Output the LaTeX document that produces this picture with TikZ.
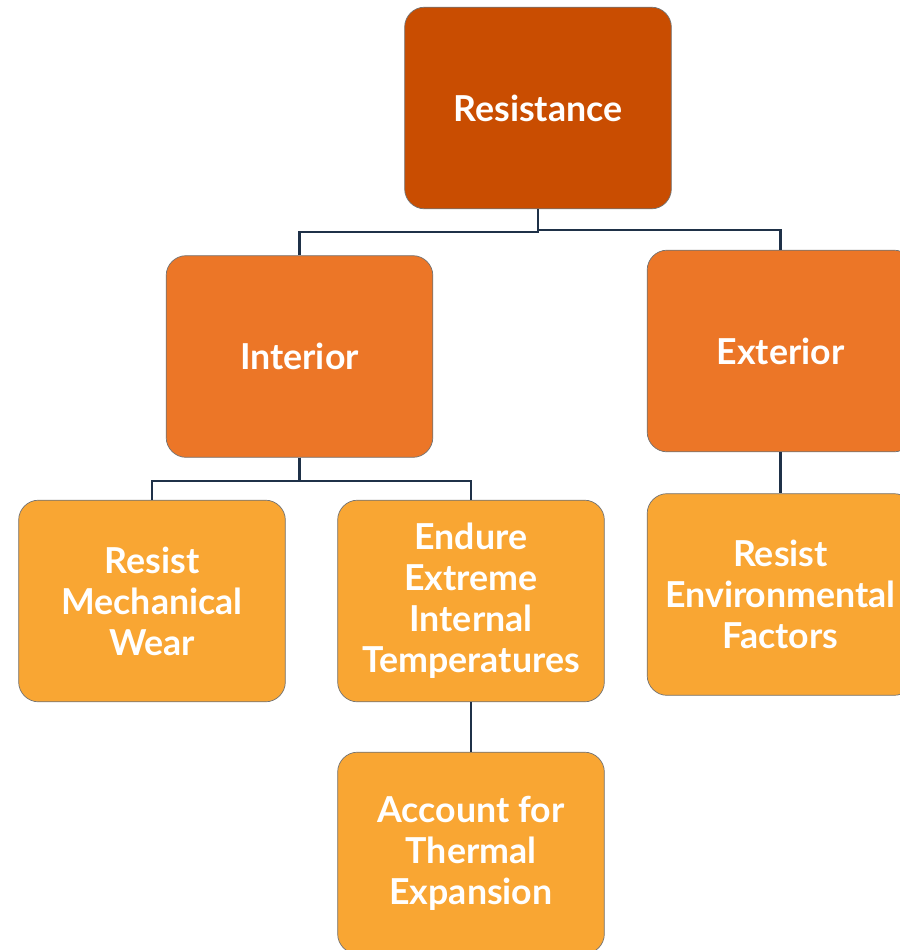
\documentclass[tikz,border=0pt]{standalone}
\usepackage{fontspec}
\setmainfont{Lato}
\usepackage{tikz}
\definecolor{rustc}{HTML}{C94D01}
\definecolor{orangec}{HTML}{EC7627}
\definecolor{ambc}{HTML}{F9A633}
\definecolor{linkc}{HTML}{1F3148}
\tikzstyle{chart}=[x=0.03cm, y=-0.03cm, font=\bfseries\fontsize{30.5}{35}\selectfont]
\tikzstyle{box}=[rectangle, rounded corners=0.6cm, draw=black!55, line width=0.6pt, text=white, align=center, minimum width=8.0cm, minimum height=6.05cm, inner sep=2pt]
\tikzstyle{head}=[box, fill=rustc]
\tikzstyle{branch}=[box, fill=orangec]
\tikzstyle{leaf}=[box, fill=ambc]
\tikzstyle{link}=[draw=linkc, line width=2pt]
\begin{document}
\begin{tikzpicture}[chart]
	\useasboundingbox (0,0) rectangle (900,950);
	\clip (0,0) rectangle (900,950);
	%%
	\draw (538,108) node[head] (res) {Resistance};
	%%
	\draw (299.5,356.5) node[branch] (int) {Interior};
	\draw (780.5,351) node[branch] (ext) {Exterior};
	%%
	\draw (152,601) node[leaf] (wear) {Resist\\Mechanical\\Wear};
	\draw (471,601) node[leaf] (endure) {Endure\\Extreme\\Internal\\Temperatures};
	\draw (780.5,594.5) node[leaf] (env) {Resist\\Environmental\\Factors};
	\draw (471,853) node[leaf] (acct) {Account for\\Thermal\\Expansion};
	%%%%%%
	\draw[link] (res.south) -- ++(0,23) -| (int.north);
	\draw[link] (res.south) -- ++(0,21) -| (ext.north);
	%%
	\draw[link] (int.south) -- ++(0,23) -| (wear.north);
	\draw[link] (int.south) -- ++(0,23) -| (endure.north);
	%%
	\draw[link] (ext.south) -- (env.north);
	\draw[link] (endure.south) -- (acct.north);
\end{tikzpicture}
\end{document}
